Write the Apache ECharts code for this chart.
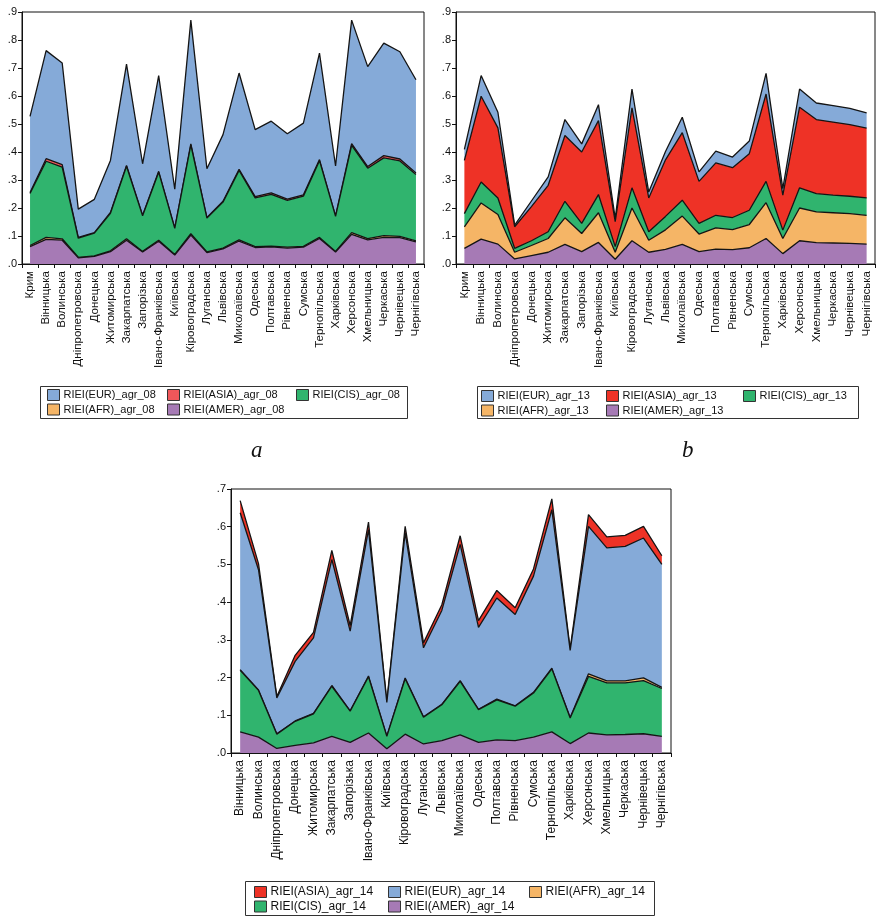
<!DOCTYPE html>
<html>
<head>
<meta charset="utf-8">
<script src="https://cdn.jsdelivr.net/npm/echarts@6/dist/echarts.min.js"></script>
<style>
  html, body { margin: 0; padding: 0; background: #fff; }
  #chart { width: 877px; height: 917px; }
</style>
</head>
<body>
<div id="chart"></div>
<script>
// Regions (oblasts) for 2008 and 2013
const regions = ['Крим', 'Вінницька', 'Волинська', 'Дніпропетровська', 'Донецька', 'Житомирська',
  'Закарпатська', 'Запорізька', 'Івано-Франківська', 'Київська', 'Кіровоградська', 'Луганська',
  'Львівська', 'Миколаївська', 'Одеська', 'Полтавська', 'Рівненська', 'Сумська', 'Тернопільська',
  'Харківська', 'Херсонська', 'Хмельницька', 'Черкаська', 'Чернівецька', 'Чернігівська'];
// Regions for 2014 (without Crimea)
const regions14 = ['Вінницька', 'Волинська', 'Дніпропетровська', 'Донецька', 'Житомирська',
  'Закарпатська', 'Запорізька', 'Івано-Франківська', 'Київська', 'Кіровоградська', 'Луганська',
  'Львівська', 'Миколаївська', 'Одеська', 'Полтавська', 'Рівненська', 'Сумська', 'Тернопільська',
  'Харківська', 'Херсонська', 'Хмельницька', 'Черкаська', 'Чернівецька', 'Чернігівська'];

// 2008
const amer08 = [0.062,0.088,0.085,0.022,0.027,0.044,0.085,0.043,0.081,0.032,0.103,0.041,0.054,0.082,0.059,0.061,0.057,0.060,0.091,0.043,0.106,0.086,0.095,0.094,0.079];
const afr08  = [0.004,0.007,0.005,0.002,0.002,0.003,0.005,0.002,0.004,0.002,0.005,0.002,0.003,0.004,0.003,0.003,0.003,0.003,0.004,0.002,0.006,0.005,0.006,0.005,0.004];
const cis08  = [0.186,0.272,0.256,0.068,0.081,0.134,0.259,0.127,0.243,0.093,0.317,0.121,0.164,0.248,0.174,0.185,0.167,0.179,0.274,0.125,0.312,0.251,0.278,0.269,0.237];
const asia08 = [0.003,0.009,0.009,0.003,0.002,0.003,0.003,0.002,0.003,0.002,0.004,0.002,0.003,0.004,0.005,0.005,0.005,0.005,0.004,0.002,0.006,0.006,0.008,0.007,0.005];
const eur08  = [0.272,0.386,0.363,0.101,0.119,0.186,0.362,0.184,0.342,0.138,0.442,0.174,0.238,0.344,0.239,0.256,0.233,0.256,0.380,0.178,0.441,0.357,0.402,0.383,0.333];

// 2013
const amer13 = [0.056,0.089,0.071,0.018,0.030,0.042,0.070,0.044,0.077,0.017,0.083,0.042,0.052,0.070,0.044,0.053,0.051,0.058,0.091,0.037,0.083,0.076,0.075,0.074,0.071];
const afr13  = [0.077,0.129,0.106,0.024,0.036,0.049,0.095,0.065,0.106,0.025,0.117,0.043,0.070,0.101,0.063,0.076,0.072,0.083,0.128,0.054,0.117,0.110,0.108,0.106,0.103];
const cis13  = [0.047,0.075,0.059,0.014,0.017,0.024,0.059,0.036,0.065,0.020,0.072,0.030,0.048,0.057,0.038,0.045,0.043,0.051,0.076,0.030,0.072,0.065,0.063,0.062,0.062];
const asia13 = [0.190,0.306,0.250,0.077,0.122,0.166,0.235,0.255,0.264,0.089,0.286,0.121,0.202,0.241,0.150,0.187,0.178,0.202,0.312,0.125,0.288,0.265,0.261,0.256,0.249];
const eur13  = [0.039,0.074,0.056,0.006,0.020,0.030,0.057,0.029,0.057,0.012,0.067,0.021,0.030,0.055,0.034,0.042,0.038,0.045,0.074,0.023,0.065,0.059,0.059,0.058,0.055];

// 2014
const amer14 = [0.056,0.042,0.012,0.020,0.027,0.044,0.028,0.053,0.011,0.050,0.024,0.033,0.048,0.028,0.035,0.033,0.042,0.056,0.025,0.053,0.048,0.049,0.051,0.044];
const cis14  = [0.163,0.124,0.038,0.064,0.077,0.133,0.083,0.149,0.033,0.147,0.071,0.095,0.142,0.087,0.106,0.091,0.117,0.167,0.068,0.150,0.138,0.137,0.141,0.127];
const afr14  = [0.002,0.001,0.001,0.001,0.001,0.002,0.001,0.002,0.001,0.002,0.001,0.001,0.002,0.001,0.002,0.001,0.002,0.002,0.001,0.007,0.005,0.005,0.007,0.003];
const eur14  = [0.416,0.319,0.095,0.158,0.200,0.334,0.211,0.388,0.089,0.385,0.183,0.249,0.361,0.217,0.268,0.242,0.308,0.420,0.178,0.391,0.353,0.357,0.371,0.326];
const asia14 = [0.032,0.016,0.004,0.016,0.015,0.024,0.015,0.020,0.003,0.017,0.013,0.015,0.023,0.018,0.020,0.018,0.019,0.029,0.004,0.031,0.029,0.029,0.031,0.023];

const C = {
  eur: '#85AAD8',
  asiaLight: '#F0575A',
  asia: '#EE3226',
  cis: '#30B46E',
  afr: '#F5B566',
  amer: '#A67AB5'
};

const FONT = '"Liberation Sans", Arial, sans-serif';

// Panel geometry
const panels = [
  { left: 22,  top: 12,  width: 402, height: 252, max: 0.9, cats: regions,   labelSize: 11.5 },
  { left: 456, top: 12,  width: 419, height: 252, max: 0.9, cats: regions,   labelSize: 11.5 },
  { left: 231, top: 489, width: 440, height: 264, max: 0.7, cats: regions14, labelSize: 12 }
];

const grid = panels.map(p => ({
  left: p.left, top: p.top, width: p.width, height: p.height,
  show: true, borderColor: '#111', borderWidth: 1, backgroundColor: 'transparent', containLabel: false
}));

const xAxis = panels.map((p, i) => ({
  type: 'category', gridIndex: i, data: p.cats, boundaryGap: true,
  axisLine: { show: true, lineStyle: { color: '#111', width: 1 } },
  axisTick: { show: true, inside: false, length: 4, interval: 0, lineStyle: { color: '#111' } },
  axisLabel: { rotate: 90, interval: 0, margin: 7, fontFamily: FONT, fontSize: p.labelSize, color: '#111' },
  splitLine: { show: false }
}));

const yAxis = panels.map((p, i) => ({
  type: 'value', gridIndex: i, min: 0, max: p.max, interval: 0.1,
  axisLine: { show: true, lineStyle: { color: '#111', width: 1 } },
  axisTick: { show: true, inside: false, length: 4, lineStyle: { color: '#111' } },
  axisLabel: {
    margin: 5, fontFamily: FONT, fontSize: 11, color: '#111',
    formatter: v => v.toFixed(1).replace(/^0/, '')
  },
  splitLine: { show: false }
}));

// Stacked area layer; lower layers get higher z so every outline stays visible
function layer(name, data, color, idx, order) {
  return {
    type: 'line', name, data, xAxisIndex: idx, yAxisIndex: idx, stack: 'p' + idx,
    symbol: 'none', showSymbol: false, z: 20 - order, silent: true,
    itemStyle: { color },
    lineStyle: { color: '#141414', width: 1.3 },
    areaStyle: { color, opacity: 1 },
    emphasis: { disabled: true }
  };
}

const series = [
  // 2008: bottom to top
  layer('RIEI(AMER)_agr_08', amer08, C.amer, 0, 0),
  layer('RIEI(AFR)_agr_08', afr08, C.afr, 0, 1),
  layer('RIEI(CIS)_agr_08', cis08, C.cis, 0, 2),
  layer('RIEI(ASIA)_agr_08', asia08, C.asiaLight, 0, 3),
  layer('RIEI(EUR)_agr_08', eur08, C.eur, 0, 4),
  // 2013
  layer('RIEI(AMER)_agr_13', amer13, C.amer, 1, 0),
  layer('RIEI(AFR)_agr_13', afr13, C.afr, 1, 1),
  layer('RIEI(CIS)_agr_13', cis13, C.cis, 1, 2),
  layer('RIEI(ASIA)_agr_13', asia13, C.asia, 1, 3),
  layer('RIEI(EUR)_agr_13', eur13, C.eur, 1, 4),
  // 2014
  layer('RIEI(AMER)_agr_14', amer14, C.amer, 2, 0),
  layer('RIEI(CIS)_agr_14', cis14, C.cis, 2, 1),
  layer('RIEI(AFR)_agr_14', afr14, C.afr, 2, 2),
  layer('RIEI(EUR)_agr_14', eur14, C.eur, 2, 3),
  layer('RIEI(ASIA)_agr_14', asia14, C.asia, 2, 4)
];

// Legend columns: one vertical legend per column
function legendCol(names, left, top, size, gap) {
  return {
    data: names.map(n => ({ name: n, icon: 'rect' })),
    orient: 'vertical', left, top, padding: 0, itemGap: gap,
    itemWidth: 12, itemHeight: 11, selectedMode: false,
    itemStyle: { borderColor: '#333', borderWidth: 1 },
    textStyle: { fontFamily: FONT, fontSize: size, color: '#111', padding: [0, 0, 0, -1] }
  };
}

const legend = [
  legendCol(['RIEI(EUR)_agr_08', 'RIEI(AFR)_agr_08'], 47, 389, 11, 2.5),
  legendCol(['RIEI(ASIA)_agr_08', 'RIEI(AMER)_agr_08'], 167, 389, 11, 2.5),
  legendCol(['RIEI(CIS)_agr_08'], 296, 389, 11, 2.5),
  legendCol(['RIEI(EUR)_agr_13', 'RIEI(AFR)_agr_13'], 481, 390, 11, 2.5),
  legendCol(['RIEI(ASIA)_agr_13', 'RIEI(AMER)_agr_13'], 606, 390, 11, 2.5),
  legendCol(['RIEI(CIS)_agr_13'], 743, 390, 11, 2.5),
  legendCol(['RIEI(ASIA)_agr_14', 'RIEI(CIS)_agr_14'], 254, 886, 12, 2.5),
  legendCol(['RIEI(EUR)_agr_14', 'RIEI(AMER)_agr_14'], 388, 886, 12, 2.5),
  legendCol(['RIEI(AFR)_agr_14'], 529, 886, 12, 2.5)
];

const graphic = [
  { type: 'rect', shape: { x: 40.5, y: 386.5, width: 367, height: 32 }, style: { fill: 'none', stroke: '#333', lineWidth: 1 }, silent: true },
  { type: 'rect', shape: { x: 477.5, y: 386.5, width: 381, height: 32 }, style: { fill: 'none', stroke: '#333', lineWidth: 1 }, silent: true },
  { type: 'rect', shape: { x: 245.5, y: 881.5, width: 409, height: 34 }, style: { fill: 'none', stroke: '#333', lineWidth: 1 }, silent: true },
  { type: 'text', left: 251, top: 439, style: { text: 'a', font: 'italic 23px "Liberation Serif", "DejaVu Serif", serif', fill: '#111' }, silent: true },
  { type: 'text', left: 682, top: 439, style: { text: 'b', font: 'italic 23px "Liberation Serif", "DejaVu Serif", serif', fill: '#111' }, silent: true }
];

const chart = echarts.init(document.getElementById('chart'), null, { renderer: 'canvas' });
chart.setOption({
  animation: false,
  backgroundColor: '#fff',
  grid, xAxis, yAxis, series, legend, graphic
});
</script>
</body>
</html>
